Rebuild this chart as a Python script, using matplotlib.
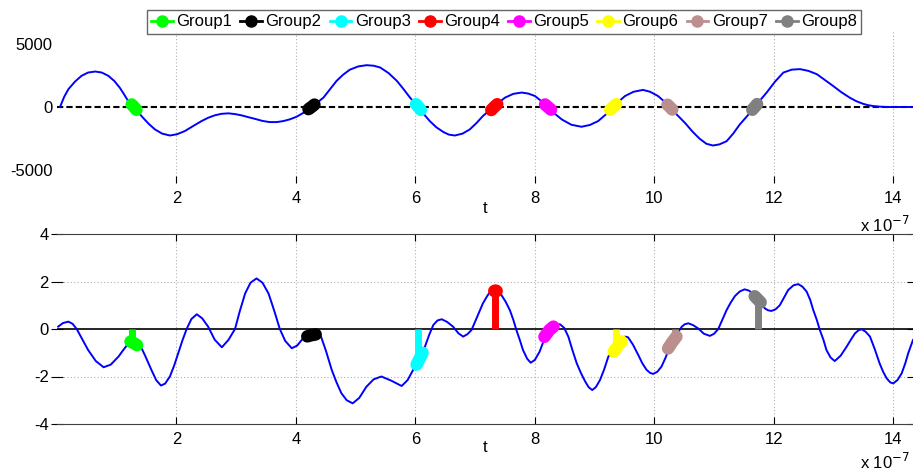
import numpy as np
import matplotlib
matplotlib.use("Agg")
import matplotlib.pyplot as plt
from matplotlib.lines import Line2D

plt.rcParams['font.family'] = ['Liberation Sans', 'DejaVu Sans']
plt.rcParams['font.size'] = 12
plt.rcParams['axes.unicode_minus'] = False

# time axis in units of 1e-7 s
t_i = [0.05, 0.12, 0.19, 0.30, 0.41, 0.52, 0.64, 0.75, 0.86, 0.96, 1.05, 1.12, 1.19,
       1.29, 1.36, 1.44, 1.54, 1.64, 1.76, 1.89, 2.01, 2.14, 2.28, 2.42, 2.53, 2.64,
       2.75, 2.87, 2.98, 3.09, 3.20, 3.31, 3.44, 3.56, 3.68, 3.79, 3.90, 4.01, 4.14,
       4.26, 4.36, 4.46, 4.57, 4.68, 4.79, 4.90, 5.04, 5.18, 5.30, 5.41, 5.55, 5.69,
       5.80, 5.91, 5.98, 6.05, 6.14, 6.24, 6.35, 6.47, 6.56, 6.66, 6.79, 6.91, 7.02,
       7.13, 7.22, 7.32, 7.41, 7.50, 7.64, 7.78, 7.89, 8.00, 8.11, 8.22, 8.33, 8.45,
       8.61, 8.78, 8.92, 9.06, 9.19, 9.31, 9.41, 9.51, 9.65, 9.81, 9.93, 10.06, 10.16,
       10.26, 10.38, 10.51, 10.64, 10.76, 10.87, 10.98, 11.09, 11.21, 11.32, 11.43,
       11.56, 11.68, 11.78, 11.88, 12.02, 12.16, 12.30, 12.44, 12.58, 12.72, 12.85,
       12.99, 13.13, 13.27, 13.38, 13.49, 13.57, 13.66, 13.77, 13.89, 14.33]
i_vals = [0, 800, 1400, 2000, 2460, 2720, 2800, 2720, 2460, 2050, 1530, 1020, 480,
          0, -420, -850, -1350, -1770, -2100, -2250, -2150, -1900, -1500, -1110, -850, -660,
          -540, -500, -560, -660, -800, -930, -1100, -1190, -1190, -1110, -970, -770, -420,
          0, 360, 740, 1400, 2060, 2550, 2940, 3200, 3300, 3260, 3120, 2680, 2060,
          1420, 740, 360, 0, -560, -1110, -1600, -1980, -2180, -2250, -2100, -1770, -1280,
          -710, -350, 0, 400, 740, 1040, 1140, 1060, 870, 460, 0, -520, -980,
          -1400, -1560, -1420, -1110, -580, 0, 460, 870, 1200, 1350, 1200, 870, 460,
          0, -620, -1240, -1950, -2510, -2900, -3040, -2950, -2700, -2100, -1380,
          -680, 0, 580, 1140, 2000, 2720, 2950, 2990, 2850, 2590, 2150,
          1670, 1170, 740, 460, 260, 150, 80, 30, 0, 0]

t_m = [0.02, 0.10, 0.19, 0.26, 0.33, 0.42, 0.52, 0.65, 0.78, 0.90, 1.03, 1.12, 1.22,
       1.30, 1.39, 1.48, 1.58, 1.66, 1.74, 1.81, 1.89, 1.96, 2.03, 2.10, 2.17, 2.25,
       2.34, 2.43, 2.53, 2.64, 2.76, 2.87, 2.98, 3.06, 3.15, 3.24, 3.34, 3.44, 3.54,
       3.60, 3.65, 3.73, 3.82, 3.93, 4.02, 4.12, 4.25, 4.33, 4.40, 4.50, 4.60, 4.68,
       4.76, 4.85, 4.95, 5.06, 5.18, 5.30, 5.43, 5.60, 5.77, 5.87, 5.96, 6.05, 6.16,
       6.23, 6.30, 6.37, 6.44, 6.53, 6.63, 6.72, 6.80, 6.87, 6.94, 7.04, 7.13, 7.20,
       7.25, 7.34, 7.44, 7.51, 7.58, 7.64, 7.69, 7.75, 7.80, 7.87, 7.93, 8.00, 8.08,
       8.14, 8.20, 8.28, 8.35, 8.42, 8.49, 8.56, 8.63, 8.70, 8.77, 8.84, 8.90, 8.96,
       9.02, 9.09, 9.16, 9.23, 9.31, 9.39, 9.46, 9.51, 9.56, 9.64, 9.73, 9.80, 9.87,
       9.93, 9.98, 10.05, 10.12, 10.18, 10.23, 10.28, 10.33, 10.40, 10.46, 10.51, 10.57,
       10.65, 10.73, 10.83, 10.93, 11.00, 11.07, 11.14, 11.21, 11.28, 11.35, 11.43,
       11.51, 11.58, 11.65, 11.73, 11.80, 11.85, 11.90, 11.96, 12.03, 12.10, 12.17,
       12.24, 12.33, 12.41, 12.48, 12.55, 12.61, 12.66, 12.72, 12.77, 12.83, 12.88,
       12.95, 13.02, 13.12, 13.22, 13.29, 13.36, 13.42, 13.47, 13.54, 13.61, 13.69,
       13.77, 13.83, 13.89, 13.95, 14.00, 14.07, 14.14, 14.20, 14.25, 14.33]
m_vals = [0.10, 0.25, 0.31, 0.22, 0.0, -0.42, -0.88, -1.35, -1.61, -1.50, -1.16, -0.85, -0.53,
          -0.55, -0.67, -1.15, -1.72, -2.15, -2.38, -2.30, -2.00, -1.55, -1.02, -0.48, 0.0, 0.42,
          0.62, 0.45, 0.10, -0.45, -0.77, -0.46, 0.0, 0.75, 1.50, 1.95, 2.13, 1.95, 1.50,
          1.05, 0.66, 0.0, -0.50, -0.81, -0.70, -0.39, -0.28, -0.22, -0.18, -0.90, -1.73, -2.25,
          -2.70, -3.00, -3.13, -2.90, -2.43, -2.12, -2.00, -2.18, -2.40, -2.15, -1.73, -1.35, -0.74,
          -0.25, 0.17, 0.36, 0.41, 0.30, 0.10, -0.18, -0.32, -0.22, -0.04, 0.55, 1.08, 1.38,
          1.57, 1.62, 1.43, 1.15, 0.80, 0.38, -0.04, -0.48, -0.88, -1.25, -1.42, -1.30, -0.95,
          -0.55, -0.22, 0.05, 0.17, 0.20, 0.05, -0.32, -0.90, -1.44, -1.85, -2.20, -2.45, -2.57,
          -2.45, -2.15, -1.70, -1.16, -0.95, -0.72, -0.45, -0.32, -0.35, -0.65, -1.09, -1.45, -1.72,
          -1.85, -1.89, -1.80, -1.58, -1.25, -0.95, -0.70, -0.45, -0.12, 0.10, 0.20, 0.24,
          0.16, 0.03, -0.20, -0.29, -0.20, 0.0, 0.40, 0.80, 1.12, 1.39, 1.58,
          1.67, 1.62, 1.50, 1.25, 1.02, 0.87, 0.79, 0.76, 0.83, 1.00, 1.32,
          1.64, 1.84, 1.89, 1.78, 1.57, 1.22, 0.80, 0.38, -0.04, -0.45, -0.88,
          -1.20, -1.35, -1.12, -0.74, -0.45, -0.18, -0.05, -0.01, -0.12, -0.32, -0.85,
          -1.44, -1.80, -2.08, -2.25, -2.29, -2.15, -1.87, -1.45, -1.02, -0.46]

groups = ['Group1', 'Group2', 'Group3', 'Group4', 'Group5', 'Group6', 'Group7', 'Group8']
colors = ['#00ff00', '#000000', '#00ffff', '#ff0000', '#ff00ff', '#ffff00', '#bc8f8f', '#808080']

# group segments on i(t) (around zero crossings)
gi_t = [[1.25, 1.29, 1.33], [4.21, 4.26, 4.31], [6.01, 6.05, 6.09], [7.27, 7.32, 7.37],
        [8.17, 8.22, 8.27], [9.26, 9.31, 9.36], [10.22, 10.26, 10.30], [11.64, 11.68, 11.72]]
gi_v = [[200, 0, -220], [-170, 0, 190], [220, 0, -230], [-240, 0, 220],
        [200, 0, -210], [-220, 0, 220], [180, 0, -200], [-220, 0, 230]]

# group stems and segments on m(t)
stem_t = [1.26, 4.25, 6.05, 7.34, 8.20, 9.36, 10.34, 11.73]
stem_v = [-0.50, -0.25, -1.20, 1.57, -0.20, -0.55, -0.35, 1.15]
gm_t = [[1.23, 1.29, 1.34], [4.19, 4.26, 4.33], [6.02, 6.07, 6.12], [7.32, 7.34, 7.36],
        [8.16, 8.24, 8.31], [9.32, 9.39, 9.45], [10.23, 10.30, 10.37], [11.68, 11.73, 11.78]]
gm_v = [[-0.53, -0.60, -0.68], [-0.31, -0.26, -0.23], [-1.50, -1.25, -1.00], [1.60, 1.62, 1.60],
        [-0.33, -0.05, 0.10], [-0.95, -0.72, -0.52], [-0.82, -0.55, -0.32], [1.38, 1.25, 1.12]]

xticks = [2, 4, 6, 8, 10, 12, 14]
xmax = 14.33

fig = plt.figure(figsize=(9.13, 4.75), dpi=100)
left = 57 / 913
ax1 = fig.add_axes([left, 1 - 183 / 475, 1 - left, 152 / 475])
ax2 = fig.add_axes([left, 1 - 424 / 475, 1 - left, 190 / 475])

# top: i(t)
for x in xticks:
    ax1.axvline(x, color='#b0b0b0', lw=0.8, ls=(0, (1, 2)), zorder=0)
ax1.axhline(0, color='black', lw=1.5, ls=(0, (3, 1.5)), zorder=1)
ax1.plot(t_i, i_vals, color='#0000ff', lw=1.4, zorder=2)
for k in range(len(groups)):
    ax1.plot(gi_t[k], gi_v[k], color=colors[k], lw=9,
             solid_capstyle='round', solid_joinstyle='round', zorder=3)
ax1.set_xlim(0, xmax)
ax1.set_ylim(-6000, 6000)
ax1.set_xticks(xticks)
ax1.set_yticks([-5000, 0, 5000])
for s in ax1.spines.values():
    s.set_visible(False)
ax1.tick_params(axis='y', length=0, pad=3)
ax1.tick_params(axis='x', direction='in', length=5, pad=6)

# bottom: m(t)
for x in xticks:
    ax2.axvline(x, color='#b0b0b0', lw=0.8, ls=(0, (1, 2)), zorder=0)
for y in [-2, 2]:
    ax2.axhline(y, color='#b0b0b0', lw=0.8, ls=(0, (1, 2)), zorder=0)
ax2.axhline(0, color='black', lw=1.2, zorder=1)
ax2.plot(t_m, m_vals, color='#0000ff', lw=1.4, zorder=2)
for k in range(len(groups)):
    ax2.plot([stem_t[k], stem_t[k]], [0, stem_v[k]], color=colors[k], lw=5,
             solid_capstyle='butt', zorder=3)
    ax2.plot(gm_t[k], gm_v[k], color=colors[k], lw=9,
             solid_capstyle='round', solid_joinstyle='round', zorder=3)
ax2.set_xlim(0, xmax)
ax2.set_ylim(-4, 4)
ax2.set_xticks(xticks)
ax2.set_yticks([-4, -2, 0, 2, 4])
ax2.spines['left'].set_visible(False)
ax2.spines['right'].set_visible(False)
ax2.spines['top'].set_color('#404040')
ax2.spines['bottom'].set_color('#404040')
ax2.tick_params(axis='x', direction='in', length=5, top=True, pad=6)
ax2.tick_params(axis='y', direction='inout', length=8, right=True, pad=2)

fig.text(485 / 913, 1 - 208 / 475, 't', ha='center', va='center', fontsize=12)
fig.text(485 / 913, 1 - 448 / 475, 't', ha='center', va='center', fontsize=12)
fig.text(910 / 913, 1 - 225 / 475, r'x 10$^{-7}$', ha='right', va='center', fontsize=12)
fig.text(910 / 913, 1 - 462 / 475, r'x 10$^{-7}$', ha='right', va='center', fontsize=12)

handles = [Line2D([], [], color=c, lw=2, marker='o', ms=8) for c in colors]
leg = fig.legend(handles, groups, ncol=8, loc='upper center',
                 bbox_to_anchor=(504 / 913, 1 - 2 / 475), frameon=True, fancybox=False,
                 edgecolor='#404040', handlelength=1.3, handletextpad=0.2,
                 columnspacing=0.5, borderpad=0.25, fontsize=12)
leg.get_frame().set_linewidth(1.0)

fig.savefig('out.png', dpi=100)
